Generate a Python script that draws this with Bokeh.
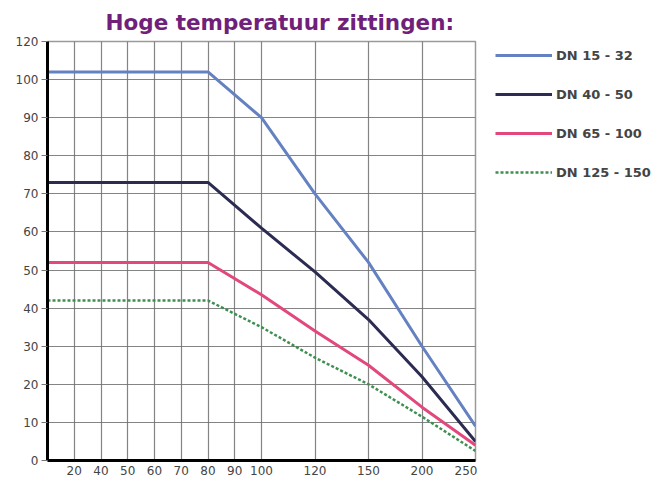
import numpy as np
from bokeh.plotting import figure
from bokeh.layouts import row
from bokeh.models import (FixedTicker, Legend, LegendItem, Range1d, Plot,
                          ColumnDataSource, Line)
from bokeh.embed import file_html
from bokeh.resources import INLINE

# ---- data ----
title_text = "Hoge temperatuur zittingen:"
x_tick_labels = [20, 40, 50, 60, 70, 80, 90, 100, 120, 150, 200, 250]
y_tick_values = [0, 10, 20, 30, 40, 50, 60, 70, 80, 90, 100, 110]
y_tick_text = ["0", "10", "20", "30", "40", "50", "60", "70", "80", "90", "100", "120"]

temps = [0, 80, 100, 120, 150, 200, 250]
dn_15_32 = [102, 102, 90, 70, 52, 30, 9]
dn_40_50 = [73, 73, 61, 49.5, 37, 22, 5]
dn_65_100 = [52, 52, 43.5, 34, 25, 14, 4]
dn_125_150 = [42, 42, 35, 27, 20, 11.5, 2.5]

series_names = ["DN 15 - 32", "DN 40 - 50", "DN 65 - 100", "DN 125 - 150"]
series_values = [dn_15_32, dn_40_50, dn_65_100, dn_125_150]
series_colors = ["#6482c2", "#2c2b52", "#e2487c", "#3e8f50"]
series_dash = ["solid", "solid", "solid", "3 2"]
series_width = [3, 3, 3, 2.5]

# chart's own non-linear temperature axis (equal steps up to 100, then double steps)
scale_temps = [0] + x_tick_labels
scale_steps = [0, 1, 2, 3, 4, 5, 6, 7, 8, 10, 12, 14, 16]


def tx(t):
    return np.interp(t, scale_temps, scale_steps)


FONT = "DejaVu Sans"
MAIN_W = 477
TOTAL_W, TOTAL_H = 658, 481

p = figure(width=MAIN_W, height=TOTAL_H, output_backend="svg", toolbar_location=None,
           x_range=Range1d(0, 16), y_range=Range1d(0, 110),
           min_border_left=47, min_border_right=2, min_border_top=41,
           min_border_bottom=21)

p.title.text = title_text
p.title.align = "left"
p.title.offset = 58
p.title.standoff = 14
p.title.text_font = FONT
p.title.text_font_style = "bold"
p.title.text_font_size = "21.5px"
p.title.text_color = "#701f7a"

p.outline_line_color = "#9a9a9a"
p.outline_line_width = 1.5

# axes
p.xaxis.ticker = FixedTicker(ticks=list(tx(x_tick_labels)))
p.xaxis.major_label_overrides = {float(tx(t)): str(t) for t in x_tick_labels}
p.yaxis.ticker = FixedTicker(ticks=y_tick_values)
p.yaxis.major_label_overrides = {v: s for v, s in zip(y_tick_values, y_tick_text)}

for ax in (p.xaxis, p.yaxis):
    ax.axis_line_color = "black"
    ax.axis_line_width = 3
    ax.minor_tick_line_color = None
    ax.major_label_text_font = FONT
    ax.major_label_text_font_size = "12px"
    ax.major_label_text_color = "#444444"

p.xaxis.major_tick_line_color = None
p.xaxis.major_tick_out = 0
p.xaxis.major_tick_in = 0
p.xaxis.major_label_standoff = 5
p.yaxis.major_tick_line_color = "#777777"
p.yaxis.major_tick_out = 6
p.yaxis.major_tick_in = 0
p.yaxis.major_label_standoff = 3

p.xgrid.ticker = FixedTicker(ticks=list(tx(x_tick_labels)))
p.ygrid.ticker = FixedTicker(ticks=y_tick_values)
for g in (p.xgrid, p.ygrid):
    g.grid_line_color = "#6e6e6e"
    g.grid_line_width = 1.2
    g.grid_line_alpha = 0.85

for vals, col, dash, w in zip(series_values, series_colors, series_dash, series_width):
    p.line(tx(temps), vals, line_color=col, line_width=w, line_dash=dash)

# legend panel to the right of the chart (its data lies outside its view,
# only the legend entries are visible)
lf = Plot(width=TOTAL_W - MAIN_W, height=TOTAL_H, output_backend="svg",
          toolbar_location=None, x_range=Range1d(-2, -1), y_range=Range1d(0, 110),
          min_border=0, outline_line_color=None, title=None)
items = []
for name, vals, col, dash, w in zip(series_names, series_values, series_colors,
                                    series_dash, series_width):
    src = ColumnDataSource(dict(x=tx(temps), y=vals))
    r = lf.add_glyph(src, Line(x="x", y="y", line_color=col, line_width=w,
                               line_dash=dash))
    items.append(LegendItem(label=name, renderers=[r]))

legend = Legend(items=items, location=(18, 278), orientation="vertical",
                glyph_width=57, glyph_height=20, spacing=19, padding=0, margin=0,
                label_standoff=4, label_text_font=FONT, label_text_font_style="bold",
                label_text_font_size="13px",
                label_text_color="#444444", border_line_color=None,
                background_fill_alpha=0)
lf.add_layout(legend, "center")

layout = row(p, lf, spacing=0)
open("out.html", "w").write(file_html(layout, INLINE))
